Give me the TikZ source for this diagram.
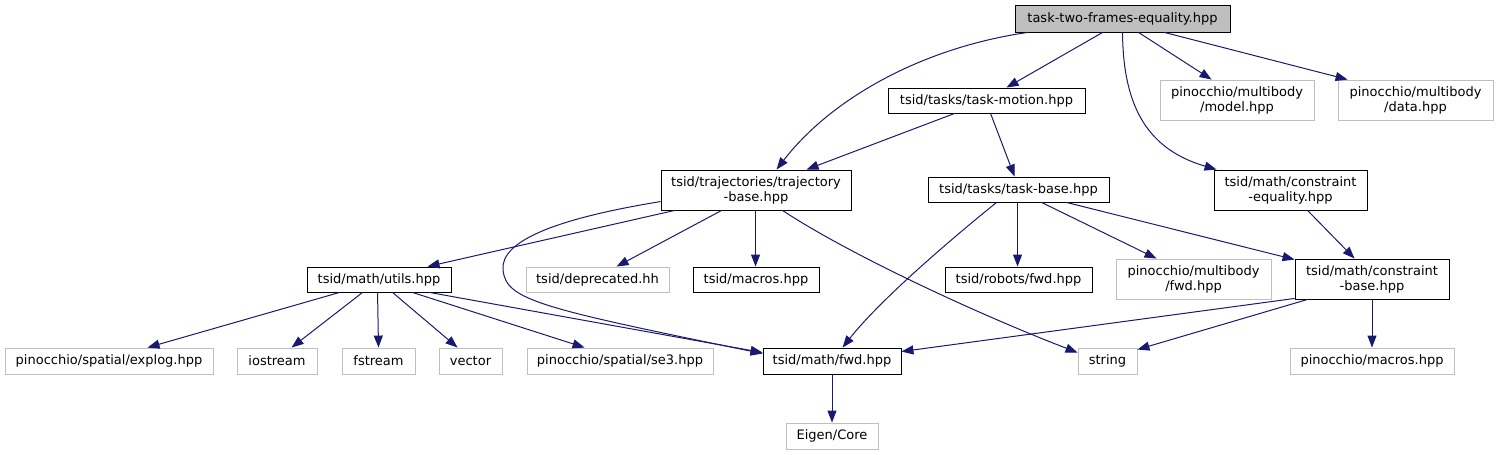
\documentclass[tikz,border=0pt]{standalone}
\usepackage{fontspec}
\setmainfont{DejaVu Sans}
\usetikzlibrary{arrows.meta,calc}
\definecolor{navyedge}{HTML}{191970}
\definecolor{extgray}{HTML}{BFBFBF}
\definecolor{rootfill}{HTML}{BFBFBF}
\begin{document}
\begin{tikzpicture}[x=1pt,y=-1pt,
  box/.style={draw=black, line width=0.9pt, inner sep=0pt, font=\fontsize{13}{15}\selectfont, align=center, text=black},
  ext/.style={box, draw=extgray},
  dep/.style={draw=navyedge, line width=1pt, -{Triangle[length=12pt,width=9pt]}}]
\useasboundingbox (0,0) rectangle (1499,455);
% nodes
\node[box, fill=rootfill, minimum width=215, minimum height=27] (root) at (1122.5,18.5) {task-two-frames-equality.hpp};
\node[box, minimum width=197, minimum height=25] (motion) at (986.5,100.5) {tsid/tasks/task-motion.hpp};
\node[ext, minimum width=154, minimum height=40] (model) at (1237,100) {pinocchio/multibody\\/model.hpp};
\node[ext, minimum width=155, minimum height=40] (data) at (1415.5,100) {pinocchio/multibody\\/data.hpp};
\node[box, minimum width=190, minimum height=40] (traj) at (756,190) {tsid/trajectories/trajectory\\-base.hpp};
\node[box, minimum width=181, minimum height=25] (tbase) at (1018.5,189.5) {tsid/tasks/task-base.hpp};
\node[box, minimum width=153, minimum height=40] (ceq) at (1290.5,190) {tsid/math/constraint\\-equality.hpp};
\node[box, minimum width=144, minimum height=25] (utils) at (379,279.5) {tsid/math/utils.hpp};
\node[ext, minimum width=143, minimum height=25] (depr) at (597.5,279.5) {tsid/deprecated.hh};
\node[box, minimum width=126, minimum height=25] (macros) at (756,279.5) {tsid/macros.hpp};
\node[box, minimum width=147, minimum height=25] (robots) at (1018.5,279.5) {tsid/robots/fwd.hpp};
\node[ext, minimum width=155, minimum height=40] (pmfwd) at (1193.5,279) {pinocchio/multibody\\/fwd.hpp};
\node[box, minimum width=154, minimum height=40] (cbase) at (1372,279) {tsid/math/constraint\\-base.hpp};
\node[ext, minimum width=208, minimum height=26] (explog) at (109,361) {pinocchio/spatial/explog.hpp};
\node[ext, minimum width=80, minimum height=26] (iostream) at (277,361) {iostream};
\node[ext, minimum width=73, minimum height=26] (fstream) at (378.5,361) {fstream};
\node[ext, minimum width=63, minimum height=26] (vector) at (470.5,361) {vector};
\node[ext, minimum width=186, minimum height=26] (se3) at (620,361) {pinocchio/spatial/se3.hpp};
\node[box, minimum width=138, minimum height=26] (mfwd) at (832,361) {tsid/math/fwd.hpp};
\node[ext, minimum width=59, minimum height=26] (string) at (1107.5,361) {string};
\node[ext, minimum width=164, minimum height=26] (pmacros) at (1372,361) {pinocchio/macros.hpp};
\node[ext, minimum width=92, minimum height=26] (eigen) at (832,436) {Eigen/Core};
% edges
\draw[dep] ($(root.south west)+(13,0)$) .. controls (920,48) and (830,100) .. ($(traj.north west)+(116,0)$);
\draw[dep] ($(root.south west)+(88,0)$) -- ($(motion.north west)+(119,0)$);
\draw[dep] ($(root.south west)+(108,0)$) .. controls (1123,110) and (1150,150) .. ($(ceq.north west)+(3,0)$);
\draw[dep] ($(root.south west)+(124,0)$) -- ($(model.north west)+(52,0)$);
\draw[dep] ($(root.south west)+(150,0)$) -- ($(data.north west)+(10,0)$);
\draw[dep] ($(motion.south west)+(67,0)$) -- ($(traj.north west)+(146,0)$);
\draw[dep] ($(motion.south west)+(103,0)$) -- ($(tbase.north west)+(87,0)$);
\draw[dep] ($(traj.south west)+(14,0)$) -- ($(utils.north west)+(121,0)$);
\draw[dep] ($(traj.north west)+(0,32)$) .. controls (560,218) and (500,240) .. (503,270) .. controls (506,300) and (540,308) .. ($(mfwd.north west)+(0,6)$);
\draw[dep] ($(traj.south west)+(61,0)$) -- ($(depr.north west)+(91,0)$);
\draw[dep] ($(traj.south west)+(95,0)$) -- ($(macros.north west)+(63,0)$);
\draw[dep] ($(traj.south west)+(122,0)$) .. controls (850,255) and (980,315) .. ($(string.north west)+(0,5)$);
\draw[dep] ($(tbase.south west)+(69,0)$) .. controls (950,240) and (880,300) .. ($(mfwd.north west)+(80,0)$);
\draw[dep] ($(tbase.south west)+(90,0)$) -- ($(robots.north west)+(73,0)$);
\draw[dep] ($(tbase.south west)+(114,0)$) -- ($(pmfwd.north west)+(41,0)$);
\draw[dep] ($(tbase.south west)+(139,0)$) -- ($(cbase.north west)+(0,1)$);
\draw[dep] ($(ceq.south west)+(94,0)$) -- ($(cbase.north west)+(60,0)$);
\draw[dep] ($(cbase.south west)+(0,-1)$) -- ($(mfwd.north east)+(0,4)$);
\draw[dep] ($(cbase.south west)+(13,0)$) -- ($(string.north east)+(0,2)$);
\draw[dep] (cbase.south) -- (pmacros.north);
\draw[dep] ($(utils.south west)+(33,0)$) -- ($(explog.north west)+(143,0)$);
\draw[dep] ($(utils.south west)+(56,0)$) -- ($(iostream.north west)+(55,0)$);
\draw[dep] ($(utils.south west)+(71,0)$) -- (fstream.north);
\draw[dep] ($(utils.south west)+(86,0)$) -- ($(vector.north west)+(19,0)$);
\draw[dep] ($(utils.south west)+(106,0)$) -- ($(se3.north west)+(58,0)$);
\draw[dep] ($(utils.south west)+(123,0)$) -- ($(mfwd.north west)+(0,5)$);
\draw[dep] (mfwd.south) -- (eigen.north);
\end{tikzpicture}
\end{document}
